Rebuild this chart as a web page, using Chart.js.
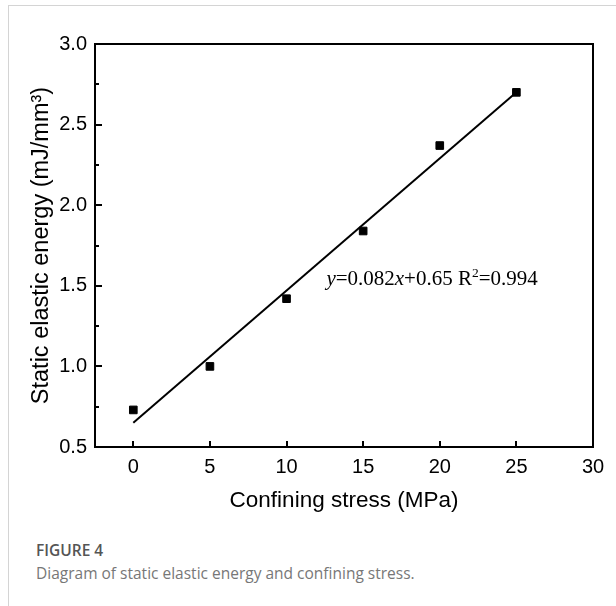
<!DOCTYPE html>
<html>
<head>
<meta charset="utf-8">
<script src="https://cdn.jsdelivr.net/npm/chart.js@4.4.1/dist/chart.umd.min.js"></script>
<style>
  body { margin: 0; background: #fff; width: 616px; height: 606px; overflow: hidden; position: relative; }
  #frame { position: absolute; left: 8px; top: 5px; right: 0; bottom: 0; border-top: 1px solid #d4d4d4; border-left: 1px solid #d4d4d4; }
  #box { position: absolute; left: 0; top: 0; width: 616px; height: 520px; }
  .cap1 { position: absolute; left: 36px; top: 539px; font: 600 15.5px "Open Sans", sans-serif; color: #555; }
  .cap2 { position: absolute; left: 36px; top: 562px; font: 15.5px "Open Sans", sans-serif; color: #777; }
</style>
</head>
<body>
<div id="frame"></div>
<div id="box"><canvas id="energyChart"></canvas></div>
<div class="cap1">FIGURE 4</div>
<div class="cap2">Diagram of static elastic energy and confining stress.</div>
<script>
// confining stress (MPa) and static elastic energy (mJ/mm3)
const stress = [0, 5, 10, 15, 20, 25];
const energy = [0.73, 1.00, 1.42, 1.84, 2.37, 2.70];

// fitted line y=0.082x+0.65, end points
const fitX = [0, 25];
const fitY = [0.65, 2.70];

const xTicks = [0, 5, 10, 15, 20, 25, 30];
const yTicks = [0.5, 1.0, 1.5, 2.0, 2.5, 3.0];
const yMinorTicks = [0.75, 1.25, 1.75, 2.25, 2.75];

const eqPos = { x: 12.6, y: 1.55 };

Chart.defaults.color = '#000';
Chart.defaults.font.family = '"Liberation Sans", Arial, sans-serif';

// top/right sides of the box and inward tick marks
const frameLines = {
    id: 'frameLines',
    afterDraw(chart) {
        const a = chart.chartArea;
        const xs = chart.scales.x;
        const ys = chart.scales.y;
        const ctx = chart.ctx;
        ctx.save();
        ctx.strokeStyle = '#000';
        ctx.lineWidth = 2;
        ctx.beginPath();
        ctx.moveTo(a.left - 1, a.top);
        ctx.lineTo(a.right, a.top);
        ctx.lineTo(a.right, a.bottom + 1);
        xTicks.forEach(function (v) {
            const px = Math.round(xs.getPixelForValue(v));
            ctx.moveTo(px, a.bottom);
            ctx.lineTo(px, a.bottom - 6);
        });
        yTicks.forEach(function (v) {
            const py = Math.round(ys.getPixelForValue(v));
            ctx.moveTo(a.left, py);
            ctx.lineTo(a.left + 7, py);
        });
        yMinorTicks.forEach(function (v) {
            const py = Math.round(ys.getPixelForValue(v));
            ctx.moveTo(a.left, py);
            ctx.lineTo(a.left + 4, py);
        });
        ctx.stroke();
        ctx.restore();
    }
};

// equation text
const equation = {
    id: 'equation',
    afterDatasetsDraw(chart) {
        const ctx = chart.ctx;
        let x = chart.scales.x.getPixelForValue(eqPos.x);
        const y = chart.scales.y.getPixelForValue(eqPos.y);
        const parts = [
            ['y', 'italic', 0],
            ['=0.082', '', 0],
            ['x', 'italic', 0],
            ['+0.65 R', '', 0],
            ['2', 'small', -8],
            ['=0.994', '', 0]
        ];
        ctx.save();
        ctx.fillStyle = '#000';
        ctx.textBaseline = 'alphabetic';
        parts.forEach(function (p) {
            if (p[1] === 'small') {
                ctx.font = '13.5px "Liberation Serif", "Times New Roman", serif';
            } else {
                ctx.font = p[1] + ' 21px "Liberation Serif", "Times New Roman", serif';
            }
            ctx.fillText(p[0], x, y + 7 + p[2]);
            x += ctx.measureText(p[0]).width;
        });
        ctx.restore();
    }
};

const ctx = document.getElementById('energyChart').getContext('2d');

new Chart(ctx, {
    type: 'scatter',
    data: {
        datasets: [{
            type: 'line',
            data: fitX.map((v, i) => ({ x: v, y: fitY[i] })),
            borderColor: '#000',
            borderWidth: 2,
            pointRadius: 0,
            fill: false
        }, {
            data: stress.map((v, i) => ({ x: v, y: energy[i] })),
            backgroundColor: '#000',
            borderColor: '#000',
            borderWidth: 1,
            pointStyle: 'rect',
            pointRadius: 5.4,
            pointHoverRadius: 5.4
        }]
    },
    options: {
        responsive: true,
        maintainAspectRatio: false,
        animation: false,
        layout: { padding: { top: 44, right: 23, left: 0, bottom: 0 } },
        plugins: {
            legend: { display: false },
            tooltip: { enabled: false }
        },
        scales: {
            x: {
                type: 'linear',
                min: -2.5,
                max: 30,
                afterBuildTicks: s => { s.ticks = xTicks.map(v => ({ value: v })); },
                afterFit: s => { s.height = 73; },
                ticks: { padding: 8, font: { size: 20 }, callback: v => String(v) },
                grid: { drawOnChartArea: false, drawTicks: false },
                border: { color: '#000', width: 2 },
                title: {
                    display: true,
                    text: 'Confining stress (MPa)',
                    font: { size: 22.5 },
                    padding: { top: 0, bottom: 6 }
                }
            },
            y: {
                type: 'linear',
                min: 0.5,
                max: 3.0,
                afterBuildTicks: s => { s.ticks = yTicks.map(v => ({ value: v })); },
                afterFit: s => { s.width = 95; },
                ticks: { padding: 8, font: { size: 20 }, callback: v => v.toFixed(1) },
                grid: { drawOnChartArea: false, drawTicks: false },
                border: { color: '#000', width: 2 },
                title: {
                    display: true,
                    text: 'Static elastic energy (mJ/mm³)',
                    font: { size: 23.5 },
                    padding: { top: 27, bottom: 0 }
                }
            }
        }
    },
    plugins: [frameLines, equation]
});
</script>
</body>
</html>
